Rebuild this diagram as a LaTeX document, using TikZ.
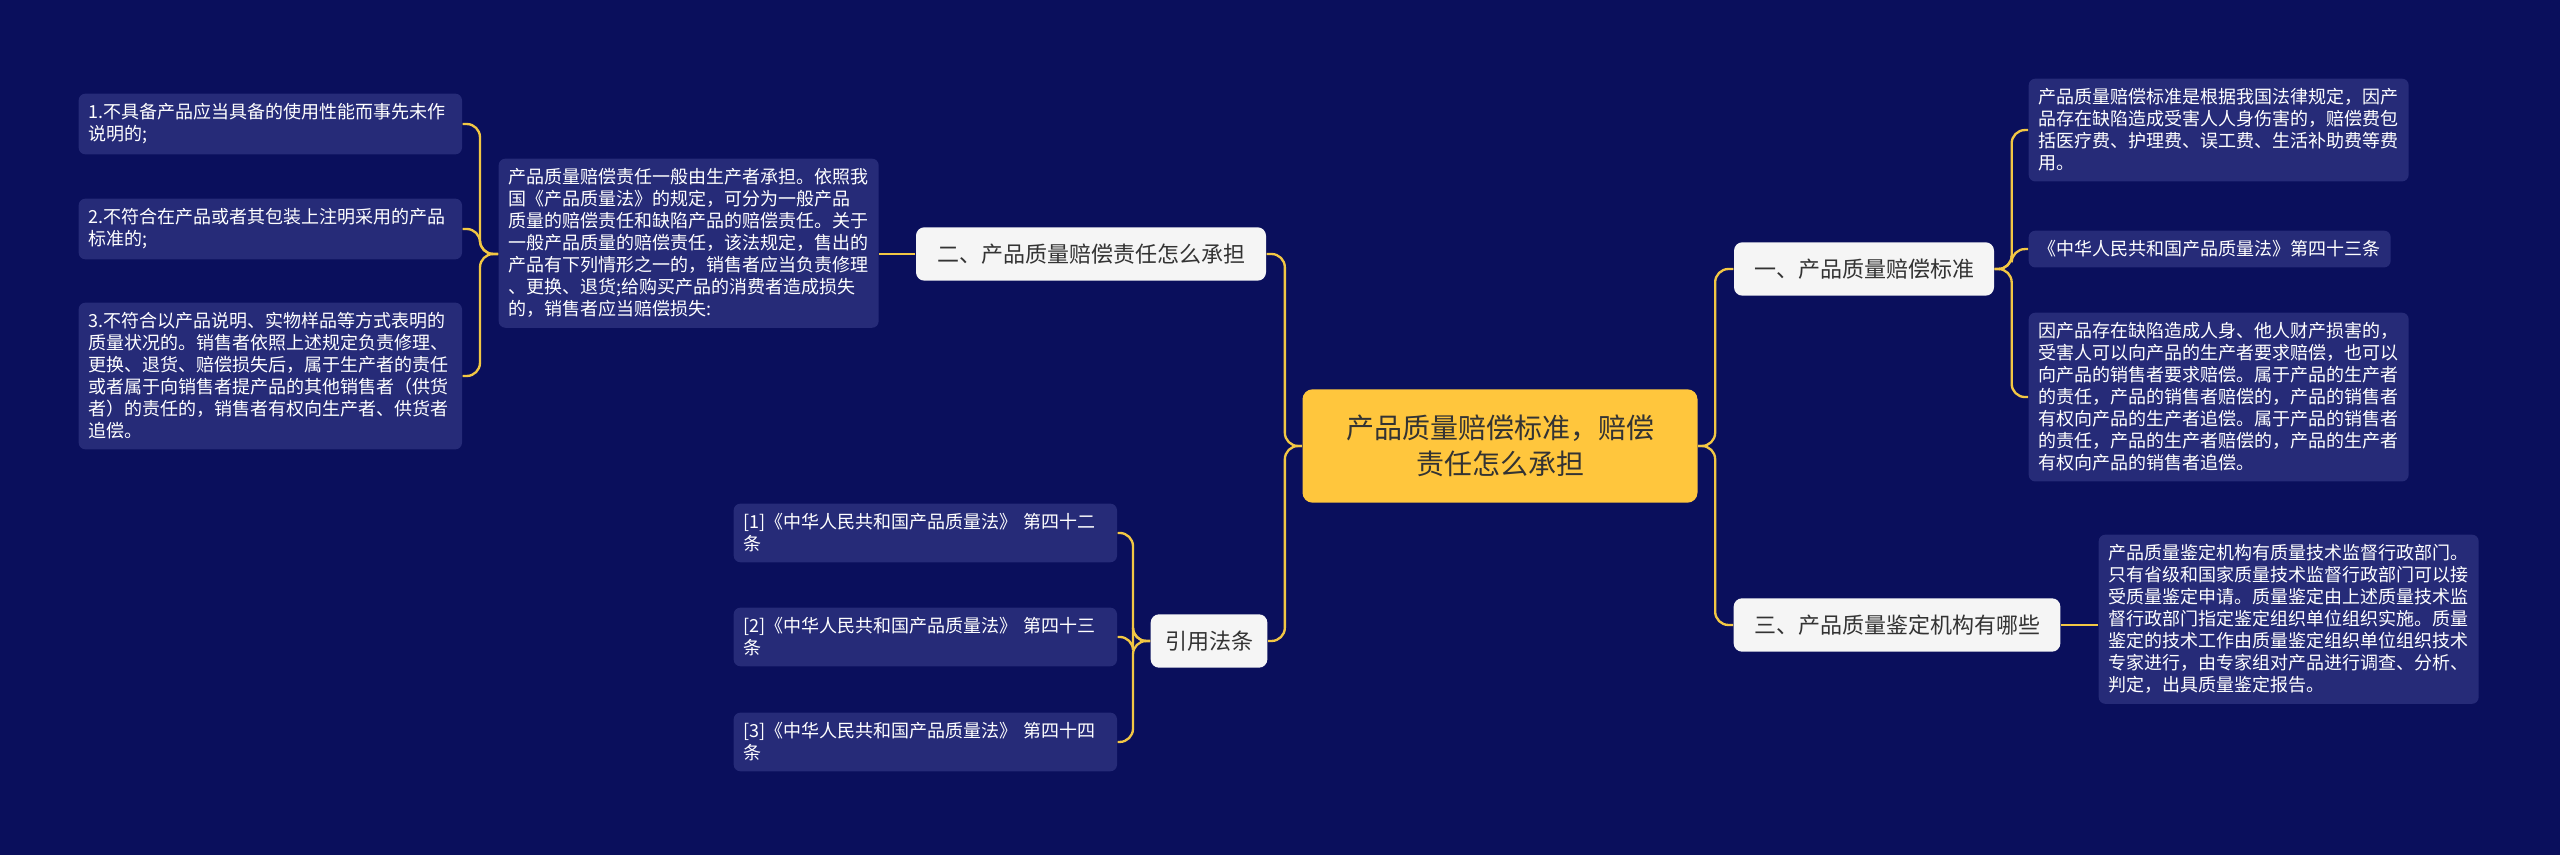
\documentclass[tikz,border=0pt]{standalone}
\usepackage{fontspec}
\setmainfont{Noto Sans CJK SC}
\usetikzlibrary{positioning}
\definecolor{bgblue}{HTML}{0A0F5C}
\definecolor{leafblue}{HTML}{262B78}
\definecolor{rootgold}{HTML}{FFC63D}
\definecolor{linkgold}{HTML}{F2C744}
\definecolor{branchwhite}{HTML}{F5F5F5}
\def\leaffont{\fontsize{5.4pt}{6.6pt}\selectfont}

\begin{document}
\begin{tikzpicture}[x=0.3pt,y=-0.3pt,
    link/.style={draw=linkgold,line width=0.7pt,rounded corners=4pt},
    leaf/.style={fill=leafblue,text=white,rounded corners=2pt,align=left,
        inner sep=3pt,font=\leaffont,anchor=north west},
    branch/.style={fill=branchwhite,text=black!80,rounded corners=2.5pt,
        font=\fontsize{6.6pt}{8pt}\selectfont,inner sep=0pt},
    root/.style={fill=rootgold,text=black!80,rounded corners=3pt,align=center,
        font=\fontsize{8.4pt}{11pt}\selectfont,inner sep=0pt}]
    \fill[bgblue] (0,0) rectangle (2560,855);

    % root and branches
    \node[root,minimum width=118.5pt,minimum height=34pt] (root) at (1500,446)
        {产品质量赔偿标准，赔偿\\责任怎么承担};
    \node[branch,minimum width=78pt,minimum height=16pt] (B1) at (1864,269) {一、产品质量赔偿标准};
    \node[branch,minimum width=98pt,minimum height=16pt] (B3) at (1897,625) {三、产品质量鉴定机构有哪些};
    \node[branch,minimum width=105pt,minimum height=16pt] (B2) at (1091,254) {二、产品质量赔偿责任怎么承担};
    \node[branch,minimum width=35pt,minimum height=16pt] (B4) at (1209,641) {引用法条};

    % right leaves
    \node[leaf,text width=108pt] (R1) at (2028,78)
        {产品质量赔偿标准是根据我国法律规定，因产\\品存在缺陷造成受害人人身伤害的，赔偿费包\\括医疗费、护理费、误工费、生活补助费等费\\用。};
    \node[leaf] (R2) at (2028,230) {《中华人民共和国产品质量法》第四十三条};
    \node[leaf,text width=108pt] (R3) at (2028,312)
        {因产品存在缺陷造成人身、他人财产损害的，\\受害人可以向产品的生产者要求赔偿，也可以\\向产品的销售者要求赔偿。属于产品的生产者\\的责任，产品的销售者赔偿的，产品的销售者\\有权向产品的生产者追偿。属于产品的销售者\\的责任，产品的生产者赔偿的，产品的生产者\\有权向产品的销售者追偿。};
    \node[leaf,text width=108pt] (R4) at (2098,534)
        {产品质量鉴定机构有质量技术监督行政部门。\\只有省级和国家质量技术监督行政部门可以接\\受质量鉴定申请。质量鉴定由上述质量技术监\\督行政部门指定鉴定组织单位组织实施。质量\\鉴定的技术工作由质量鉴定组织单位组织技术\\专家进行，由专家组对产品进行调查、分析、\\判定，出具质量鉴定报告。};

    % left leaves
    \node[leaf,text width=108pt] (P) at (498,158)
        {产品质量赔偿责任一般由生产者承担。依照我\\国《产品质量法》的规定，可分为一般产品\\质量的赔偿责任和缺陷产品的赔偿责任。关于\\一般产品质量的赔偿责任，该法规定，售出的\\产品有下列情形之一的，销售者应当负责修理\\、更换、退货;给购买产品的消费者造成损失\\的，销售者应当赔偿损失:};
    \node[leaf,text width=109pt] (L1) at (78,93)
        {1.不具备产品应当具备的使用性能而事先未作\\说明的;};
    \node[leaf,text width=109pt] (L2) at (78,198)
        {2.不符合在产品或者其包装上注明采用的产品\\标准的;};
    \node[leaf,text width=109pt] (L3) at (78,302)
        {3.不符合以产品说明、实物样品等方式表明的\\质量状况的。销售者依照上述规定负责修理、\\更换、退货、赔偿损失后，属于生产者的责任\\或者属于向销售者提产品的其他销售者（供货\\者）的责任的，销售者有权向生产者、供货者\\追偿。};
    \foreach \n/\y/\t in {1/503/二,2/607/三,3/712/四}
        \node[leaf,text width=109pt] (F\n) at (733,\y)
            {[\n]《中华人民共和国产品质量法》 第四十\t\\条};

    % connectors
    \foreach \dest in {B1,B3}
        \draw[link] (root.east) -- ++(17,0) |- (\dest.west);
    \foreach \dest in {B2,B4}
        \draw[link] (root.west) -- ++(-17,0) |- (\dest.east);
    \foreach \dest in {R1,R2,R3}
        \draw[link] (B1.east) -- ++(17,0) |- (\dest.west);
    \draw[link] (B3.east) -- (R4.west |- B3.east);
    \draw[link] (B2.west) -- (P.east |- B2.west);
    \foreach \dest in {L1,L2,L3}
        \draw[link] (P.west |- B2.west) -- ++(-18,0) |- (\dest.east);
    \foreach \dest in {F1,F2,F3}
        \draw[link] (B4.west) -- ++(-17,0) |- (\dest.east);
\end{tikzpicture}
\end{document}
